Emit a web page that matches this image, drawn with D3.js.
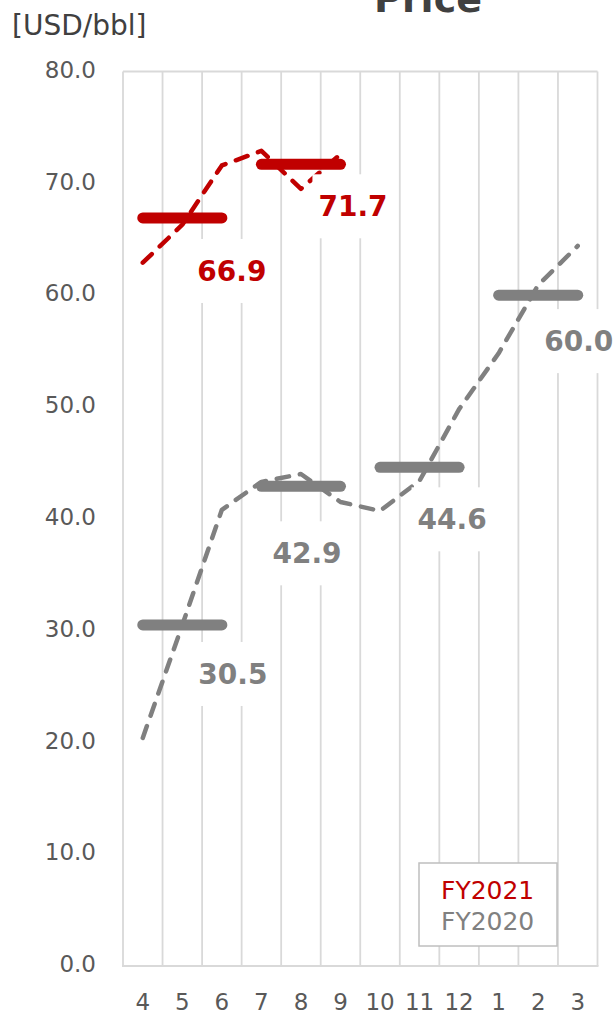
<!DOCTYPE html>
<html>
<head>
<meta charset="utf-8">
<script src="https://cdn.jsdelivr.net/npm/d3@7"></script>
<style>
  html, body { margin: 0; padding: 0; background: #ffffff; }
  svg { display: block; font-family: "DejaVu Sans", Verdana, sans-serif; }
</style>
</head>
<body>
<svg id="chart" width="615" height="1012"></svg>
<script>
// ---- data ----
const months = ["4", "5", "6", "7", "8", "9", "10", "11", "12", "1", "2", "3"];
const fy2021Monthly = [62.9, 66.3, 71.6, 72.9, 69.5, 72.6];
const fy2020Monthly = [20.4, 30.5, 40.8, 43.3, 44.0, 41.5, 40.7, 43.4, 49.8, 54.8, 60.9, 64.4];
const quarterMonths = [["4", "6"], ["7", "9"], ["10", "12"], ["1", "3"]];
const fy2021Quarterly = [66.9, 71.7];
const fy2020Quarterly = [30.5, 42.9, 44.6, 60.0];
const yTicks = [0, 10, 20, 30, 40, 50, 60, 70, 80];
const seriesNames = ["FY2021", "FY2020"];

// ---- layout / style ----
const colors = { FY2021: "#c00000", FY2020: "#808080" };
const plot = { left: 123, right: 597.5, top: 71.5, bottom: 966 };
// label offsets (px) relative to the quarter bar's right end
const labelOffsets = {
  FY2021: [[10, 53], [12.5, 42]],
  FY2020: [[11, 49], [-33.5, 67], [-7, 52], [1, 46]]
};

const svg = d3.select("#chart");

const x = d3.scaleBand().domain(months).range([plot.left, plot.right]).paddingInner(0).paddingOuter(0);
const cx = m => x(m) + x.bandwidth() / 2;
const y = d3.scaleLinear().domain([0, 80]).range([plot.bottom, plot.top]);

// title (cropped at top)
svg.append("text")
  .attr("x", 428).attr("y", 12)
  .attr("text-anchor", "middle")
  .attr("font-size", 38).attr("font-weight", "bold")
  .attr("fill", "#404040")
  .text("Price");

// unit label
svg.append("text")
  .attr("x", 12).attr("y", 35)
  .attr("font-size", 28)
  .attr("fill", "#404040")
  .text("[USD/bbl]");

// gridlines (vertical, at band boundaries)
const grid = svg.append("g").attr("stroke", "#d9d9d9").attr("stroke-width", 1.8);
const bounds = months.map(m => x(m)).concat([plot.right]);
grid.selectAll("line.v").data(bounds).join("line")
  .attr("class", "v")
  .attr("x1", d => d).attr("x2", d => d)
  .attr("y1", plot.top).attr("y2", plot.bottom);
grid.append("line")
  .attr("x1", plot.left).attr("x2", plot.right)
  .attr("y1", plot.top).attr("y2", plot.top);
grid.append("line")
  .attr("x1", plot.left - 1).attr("x2", plot.right + 1)
  .attr("y1", plot.bottom).attr("y2", plot.bottom)
  .attr("stroke-width", 2.2);

// y axis
const yAxis = svg.append("g")
  .attr("transform", `translate(${plot.left},0)`)
  .call(d3.axisLeft(y).tickValues(yTicks).tickFormat(d3.format(".1f")).tickSize(0).tickPadding(27));
yAxis.select(".domain").remove();
yAxis.selectAll("text")
  .attr("font-family", "DejaVu Sans, Verdana, sans-serif")
  .attr("font-size", 23)
  .attr("fill", "#595959")
  .attr("dy", "0.25em");

// x axis
const xAxis = svg.append("g")
  .attr("transform", `translate(0,${plot.bottom})`)
  .call(d3.axisBottom(x).tickSize(0).tickPadding(0));
xAxis.select(".domain").remove();
xAxis.selectAll("text")
  .attr("font-family", "DejaVu Sans, Verdana, sans-serif")
  .attr("font-size", 23)
  .attr("fill", "#595959")
  .attr("y", 44).attr("dy", 0);

// lines
const line = d3.line().x(d => cx(d.m)).y(d => y(d.v));

function drawSeries(name, monthly, quarterly) {
  const col = colors[name];
  const g = svg.append("g");
  // quarter bars
  g.selectAll("line.q").data(quarterly).join("line")
    .attr("class", "q")
    .attr("x1", (d, i) => cx(quarterMonths[i][0]))
    .attr("x2", (d, i) => cx(quarterMonths[i][1]))
    .attr("y1", d => y(d)).attr("y2", d => y(d))
    .attr("stroke", col).attr("stroke-width", 11).attr("stroke-linecap", "round");
  // monthly dashed line
  const pts = monthly.map((v, i) => ({ m: months[i], v }));
  g.append("path")
    .attr("d", line(pts))
    .attr("fill", "none")
    .attr("stroke", col).attr("stroke-width", 4.5)
    .attr("stroke-linecap", "round").attr("stroke-linejoin", "round")
    .attr("stroke-dasharray", "12.5 11");
}
drawSeries("FY2020", fy2020Monthly, fy2020Quarterly);
drawSeries("FY2021", fy2021Monthly, fy2021Quarterly);

// data labels
function drawLabels(name, quarterly) {
  const col = colors[name];
  quarterly.forEach((v, i) => {
    const off = labelOffsets[name][i];
    const lx = cx(quarterMonths[i][1]) + off[0];
    const ly = y(v) + off[1];
    const g = svg.append("g");
    const rect = g.append("rect").attr("fill", "#ffffff");
    const t = g.append("text")
      .attr("x", lx).attr("y", ly)
      .attr("dy", "0.36em")
      .attr("text-anchor", "middle")
      .attr("font-size", 28).attr("font-weight", "bold")
      .attr("fill", col)
      .text(d3.format(".1f")(v));
    const bb = t.node().getBBox();
    rect.attr("x", lx - bb.width / 2 - 6).attr("width", bb.width + 12)
      .attr("y", ly - 32).attr("height", 64);
  });
}
drawLabels("FY2020", fy2020Quarterly);
drawLabels("FY2021", fy2021Quarterly);

// legend
const lg = svg.append("g");
lg.append("rect")
  .attr("x", 419).attr("y", 863).attr("width", 138).attr("height", 83)
  .attr("fill", "#ffffff").attr("stroke", "#bfbfbf").attr("stroke-width", 1.5);
lg.selectAll("text").data(seriesNames).join("text")
  .attr("x", 441).attr("y", (d, i) => 899 + i * 31)
  .attr("font-size", 25)
  .attr("fill", d => colors[d])
  .text(d => d);
</script>
</body>
</html>
